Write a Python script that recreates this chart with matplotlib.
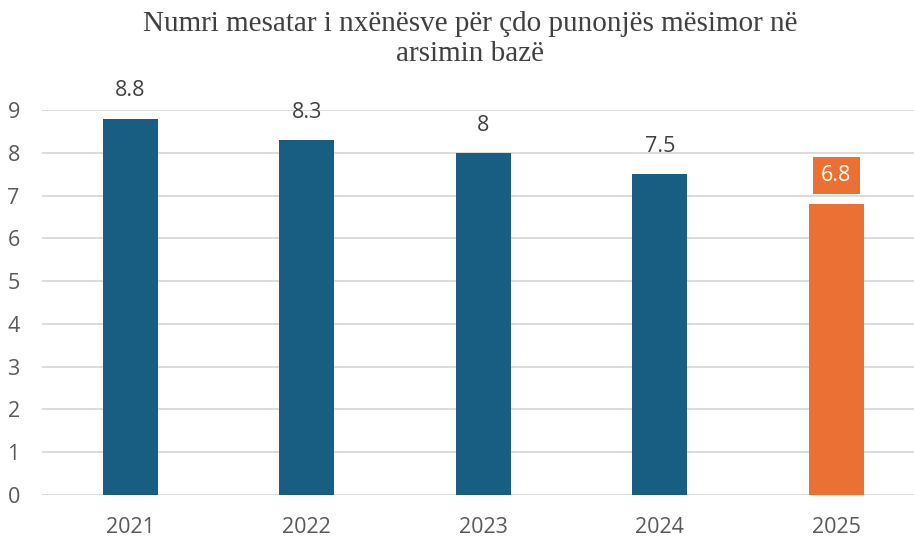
import matplotlib
matplotlib.use('Agg')
import matplotlib.pyplot as plt

years = ['2021', '2022', '2023', '2024', '2025']
values = [8.8, 8.3, 8.0, 7.5, 6.8]
labels = ['8.8', '8.3', '8', '7.5', '6.8']
yticks = [0, 1, 2, 3, 4, 5, 6, 7, 8, 9]

blue = '#175E82'
orange = '#EA7133'


def main():
    fig = plt.figure(figsize=(9.14, 5.37), dpi=100)
    ax = fig.add_axes([42 / 914, 1 - 495 / 537, 1 - 42 / 914, (495 - 110) / 537])

    x = list(range(len(years)))
    colors = [blue] * (len(years) - 1) + [orange]
    ax.bar(x, values, width=0.31, color=colors, zorder=3)

    for i, (v, lab) in enumerate(zip(values, labels)):
        if i == len(years) - 1:
            ax.text(i, v + 0.42, lab, ha='center', va='bottom', fontsize=15.5, family='Open Sans',
                    color='white', zorder=4, clip_on=False,
                    bbox=dict(boxstyle='square,pad=0.38', fc=orange, ec='none'))
        else:
            ax.text(i, v + 0.4, lab, ha='center', va='bottom', fontsize=15.5, family='Open Sans',
                    color='#404040', zorder=4, clip_on=False)

    ax.set_xlim(-0.5, 4.44)
    ax.set_ylim(0, 9)
    ax.set_yticks(yticks)
    ax.set_xticks(x)
    ax.set_xticklabels(years)
    ax.yaxis.grid(True, color='#D9D9D9', linewidth=1.3, zorder=0)
    ax.set_axisbelow(True)
    for s in ax.spines.values():
        s.set_visible(False)
    ax.tick_params(length=0, labelsize=15.5, labelcolor='#595959', pad=16)
    for t in ax.get_xticklabels() + ax.get_yticklabels():
        t.set_family('Open Sans')
    ax.tick_params(axis='y', pad=16)

    fig.text(470 / 914, 1 - 39 / 537, 'Numri mesatar i nxënësve për çdo punonjës mësimor në\narsimin bazë',
             ha='center', va='center', fontsize=21, family='Liberation Serif', color='#404040',
             linespacing=1.22)

    fig.savefig('out.png', dpi=100)


if __name__ == '__main__':
    main()
